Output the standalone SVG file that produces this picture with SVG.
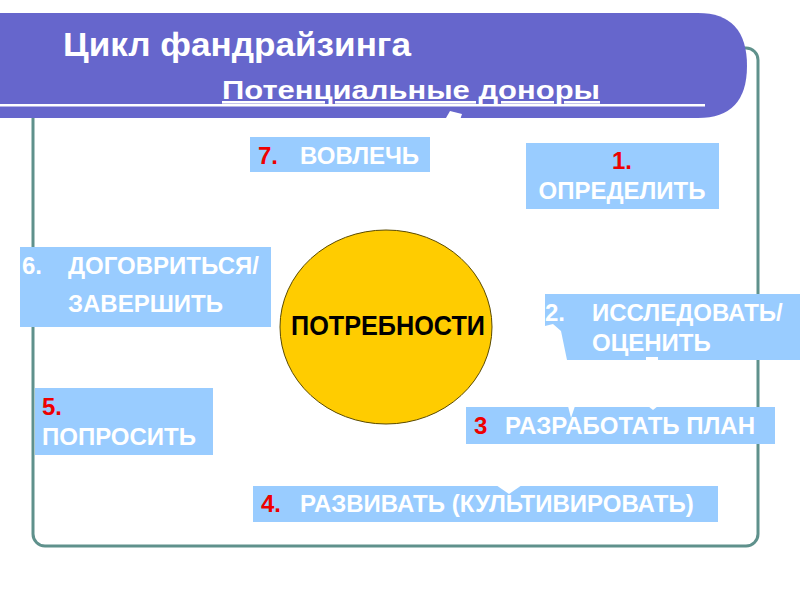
<svg xmlns="http://www.w3.org/2000/svg" width="800" height="600" viewBox="0 0 800 600">
<style>
.box{fill:#99CCFF}
.t{font-family:"Liberation Sans",Arial,sans-serif;font-weight:bold;font-size:24px;fill:#FFFFFF}
.n{fill:#EE0000}
.w{fill:#FFFFFF}
</style>
<rect width="800" height="600" fill="#FFFFFF"/>
<g id="frame">
<rect x="33" y="48" width="725" height="498" rx="12" fill="none" stroke="#5F918C" stroke-width="3"/>
</g>
<g id="banner">
<path d="M0,13 H698 Q747,13 747,66 Q747,118 698,118 H0 Z" fill="#6666CC"/>
<text x="63" y="56" font-family="Liberation Sans,Arial,sans-serif" font-weight="bold" font-size="34" fill="#FFFFFF" textLength="348" lengthAdjust="spacingAndGlyphs">Цикл фандрайзинга</text>
<text x="222" y="99" font-family="Liberation Sans,Arial,sans-serif" font-weight="bold" font-size="26" fill="#FFFFFF" text-decoration="underline" textLength="378" lengthAdjust="spacingAndGlyphs">Потенциальные доноры</text>
<rect x="0" y="104" width="705" height="2.5" fill="#FFFFFF"/>
<polygon class="w" points="446,118 450,111 462,114 460,120"/>
</g>
<g id="needs">
<ellipse cx="386" cy="327" rx="106" ry="97" fill="#FFCC00" stroke="#5A4A00" stroke-width="1"/>
<text x="388" y="335" text-anchor="middle" font-family="Liberation Sans,Arial,sans-serif" font-weight="bold" font-size="27" fill="#000000" textLength="194" lengthAdjust="spacingAndGlyphs">ПОТРЕБНОСТИ</text>
</g>
<g id="step7">
<rect class="box" x="250" y="137" width="180" height="35"/>
<text class="t" x="258" y="164"><tspan class="n">7.</tspan><tspan x="300">ВОВЛЕЧЬ</tspan></text>
</g>
<g id="step1">
<rect class="box" x="526" y="143" width="193" height="66"/>
<text class="t" x="622" y="169" text-anchor="middle"><tspan class="n">1.</tspan></text>
<text class="t" x="622" y="199" text-anchor="middle">ОПРЕДЕЛИТЬ</text>
</g>
<g id="step6">
<rect class="box" x="20" y="247" width="251" height="80"/>
<text class="t" x="22" y="274">6.<tspan x="68">ДОГОВРИТЬСЯ/</tspan></text>
<text class="t" x="68" y="312">ЗАВЕРШИТЬ</text>
</g>
<g id="step2">
<polygon class="box" points="545,294 800,294 800,360 567,360 561,331 553,324 545,326"/>
<text class="t" x="545" y="321">2.<tspan x="592">ИССЛЕДОВАТЬ/</tspan></text>
<text class="t" x="592" y="351">ОЦЕНИТЬ</text>
<rect class="w" x="646" y="357" width="12" height="3"/>
</g>
<g id="step5">
<rect class="box" x="35" y="388" width="178" height="67"/>
<text class="t" x="42" y="415"><tspan class="n">5.</tspan></text>
<text class="t" x="42" y="445">ПОПРОСИТЬ</text>
</g>
<g id="step3">
<rect class="box" x="466" y="407" width="309" height="37"/>
<polygon class="w" points="568,406 575,406 571,418"/>
<polygon class="w" points="648,406 658,406 653,410"/>
<text class="t" x="474" y="434"><tspan class="n">3</tspan><tspan x="505">РАЗРАБОТАТЬ ПЛАН</tspan></text>
</g>
<g id="step4">
<rect class="box" x="253" y="486" width="465" height="36"/>
<polygon class="w" points="496,485 522,485 509,494"/>
<text class="t" x="261" y="512"><tspan class="n">4.</tspan><tspan x="300">РАЗВИВАТЬ (КУЛЬТИВИРОВАТЬ)</tspan></text>
</g>
</svg>
